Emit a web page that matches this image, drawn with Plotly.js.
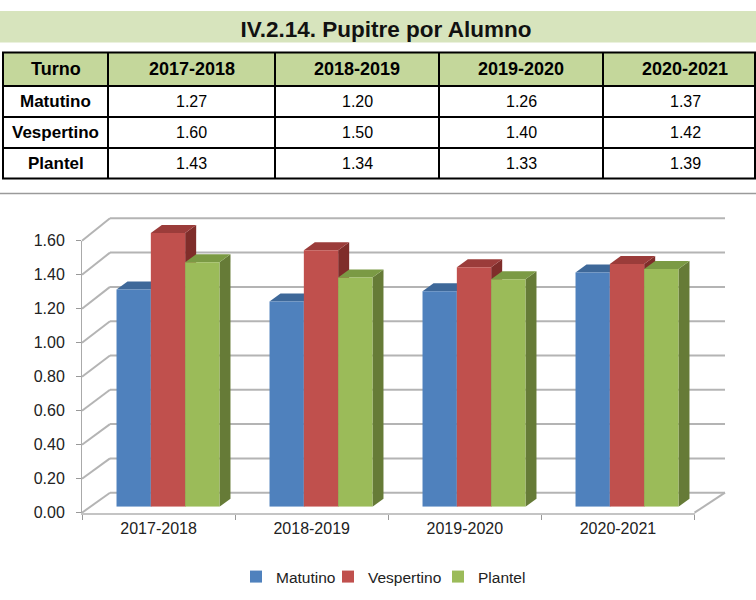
<!DOCTYPE html>
<html><head><meta charset="utf-8">
<script src="https://cdn.plot.ly/plotly-3.0.1.min.js"></script>
<style>html,body{margin:0;padding:0;background:#fff}#chart{width:756px;height:600px}</style>
</head><body><div id="chart"></div>
<script>
// ---- data ----
const chartTitle = 'IV.2.14. Pupitre por Alumno';
const categories = ['2017-2018', '2018-2019', '2019-2020', '2020-2021'];
const seriesNames = ['Matutino', 'Vespertino', 'Plantel'];
const matutino = [1.27, 1.20, 1.26, 1.37];
const vespertino = [1.60, 1.50, 1.40, 1.42];
const plantel = [1.43, 1.34, 1.33, 1.39];
const tableHeader = ['Turno', '2017-2018', '2018-2019', '2019-2020', '2020-2021'];
const yTickVals = [0, 0.2, 0.4, 0.6, 0.8, 1.0, 1.2, 1.4, 1.6];
const yTickText = ['0.00', '0.20', '0.40', '0.60', '0.80', '1.00', '1.20', '1.40', '1.60'];

// ---- styling / geometry (pixels of the 756x600 page) ----
const W = 756, H = 600;
const px = x => x / W, py = y => 1 - y / H;
const FONT = 'Liberation Sans, Arial, sans-serif';
const front = ['#4f81bd', '#c0504d', '#9bbb59'];
const topC = ['#3e6899', '#9b3c3a', '#7b9a44'];
const sideC = ['#385d8a', '#7f2d2a', '#667b37'];
const seriesValues = [matutino, vespertino, plantel];

const colLines = [3, 108, 275, 439, 603, 755];
const colCenters = [55.5, 191.5, 357, 521, 685];
const rowLines = [52.5, 86, 117, 148, 178.5];
const rowCenters = [69, 101.5, 132.5, 163.5];

const bargap = 0.327;
const depthX = 11 / 153;   // category units
const depthY = 8 / 171;    // value units
const frontY = v => 512.7 - 170 * v;
const backY = v => 492.7 - 171.5 * v;

const shapes = [];
const annotations = [];

// title band
shapes.push({type: 'rect', xref: 'paper', yref: 'paper', x0: 0, x1: 1, y0: py(42.5), y1: py(11),
  fillcolor: '#d7e4bd', line: {width: 0}, layer: 'below'});
// table header fill
shapes.push({type: 'rect', xref: 'paper', yref: 'paper', x0: px(3), x1: px(755), y0: py(86), y1: py(52.5),
  fillcolor: '#c4d79b', line: {width: 0}, layer: 'below'});
rowLines.forEach(y => shapes.push({type: 'line', xref: 'paper', yref: 'paper', x0: px(2), x1: px(756),
  y0: py(y), y1: py(y), line: {color: '#000', width: 2}}));
colLines.forEach(x => shapes.push({type: 'line', xref: 'paper', yref: 'paper', x0: px(x), x1: px(x),
  y0: py(rowLines[0]), y1: py(rowLines[rowLines.length - 1]), line: {color: '#000', width: 2}}));
// separator
shapes.push({type: 'line', xref: 'paper', yref: 'paper', x0: 0, x1: 1, y0: py(193.5), y1: py(193.5),
  line: {color: '#9a9a9a', width: 1.5}});

// back wall gridlines + left wall diagonals
yTickVals.forEach(v => {
  shapes.push({type: 'line', xref: 'paper', yref: 'paper', x0: px(110), x1: px(725),
    y0: py(backY(v)), y1: py(backY(v)), line: {color: '#b4b4b4', width: 2}, layer: 'below'});
  shapes.push({type: 'line', xref: 'paper', yref: 'paper', x0: px(82), x1: px(110),
    y0: py(frontY(v)), y1: py(backY(v)), line: {color: '#b4b4b4', width: 2}, layer: 'below'});
});
// floor right edge
shapes.push({type: 'line', xref: 'paper', yref: 'paper', x0: px(694.5), x1: px(725),
  y0: py(frontY(0)), y1: py(backY(0)), line: {color: '#b4b4b4', width: 2}, layer: 'below'});

// 3D faces of bars (top + right side), from the data
const bw = (1 - bargap) / 3;
seriesValues.forEach((vals, k) => {
  vals.forEach((v, g) => {
    const x0 = g - (1 - bargap) / 2 + k * bw, x1 = x0 + bw;
    shapes.push({type: 'path', xref: 'x', yref: 'y', layer: 'below',
      path: `M${x1},0 L${x1},${v} L${x1 + depthX},${v + depthY} L${x1 + depthX},${depthY} Z`,
      fillcolor: sideC[k], line: {width: 0}});
    shapes.push({type: 'path', xref: 'x', yref: 'y', layer: 'below',
      path: `M${x0},${v} L${x1},${v} L${x1 + depthX},${v + depthY} L${x0 + depthX},${v + depthY} Z`,
      fillcolor: topC[k], line: {width: 0}});
  });
});

// table text
const ann = (text, x, y, size, bold) => annotations.push({text, xref: 'paper', yref: 'paper',
  x: px(x), y: py(y), xanchor: 'center', yanchor: 'middle', showarrow: false,
  font: {family: FONT, size, color: '#000', weight: bold ? 'bold' : 'normal'}});
tableHeader.forEach((t, i) => ann(t, colCenters[i], rowCenters[0], 18, true));
seriesNames.forEach((name, r) => {
  ann(name, colCenters[0], rowCenters[r + 1], 17, true);
  seriesValues[r].forEach((v, c) => ann(v.toFixed(2), colCenters[c + 1], rowCenters[r + 1], 16, false));
});

// ---- traces ----
const legendIds = ['legend', 'legend2', 'legend3'];
const traces = seriesNames.map((name, k) => ({
  type: 'bar', name, x: categories, y: seriesValues[k], xaxis: 'x', yaxis: 'y',
  marker: {color: front[k], line: {width: 0}}, legend: legendIds[k], hoverinfo: 'skip'
}));
traces.push({type: 'scatter', mode: 'markers', x: categories, y: categories.map(() => null),
  xaxis: 'x2', yaxis: 'y2', showlegend: false, hoverinfo: 'skip'});

const legendStarts = [236, 328, 438];
const mkLegend = i => ({orientation: 'h', x: px(legendStarts[i]), xanchor: 'left', y: py(577), yanchor: 'middle',
  bgcolor: 'rgba(0,0,0,0)', borderwidth: 0, font: {family: FONT, size: 15.5, color: '#222'}});

const layout = {
  width: W, height: H, autosize: false,
  margin: {l: 0, r: 0, t: 0, b: 0},
  paper_bgcolor: '#fff', plot_bgcolor: 'rgba(0,0,0,0)',
  title: {text: chartTitle, x: px(386), xanchor: 'center', y: py(29), yanchor: 'middle',
    font: {family: FONT, size: 22.5, color: '#111', weight: 'bold'}},
  barmode: 'group', bargap: bargap, bargroupgap: 0,
  xaxis: {type: 'category', categoryarray: categories, categoryorder: 'array',
    domain: [px(91.5), px(703.5)], range: [-0.5, 3.5], visible: false, fixedrange: true},
  yaxis: {domain: [py(506.7), py(506.7 - 1.8 * 171)], range: [0, 1.8], visible: false, fixedrange: true},
  xaxis2: {type: 'category', categoryarray: categories, categoryorder: 'array', anchor: 'y2',
    domain: [px(82), px(694.5)], range: [-0.5, 3.5], tickson: 'boundaries', ticks: 'outside',
    ticklen: 5, tickcolor: '#999', tickwidth: 1, showline: true, linecolor: '#c4c4c4', linewidth: 2,
    showgrid: false, zeroline: false, tickfont: {family: FONT, size: 16, color: '#222'}, fixedrange: true},
  yaxis2: {anchor: 'x2', domain: [py(frontY(0)), py(frontY(1.6))], range: [0, 1.6],
    tickmode: 'array', tickvals: yTickVals, ticktext: yTickText, ticks: 'outside', ticklen: 5,
    tickcolor: '#999', tickwidth: 1, showline: true, linecolor: '#aaa', linewidth: 1, showgrid: false,
    zeroline: false, ticklabelstandoff: 8, tickfont: {family: FONT, size: 16, color: '#222'}, fixedrange: true},
  legend: mkLegend(0), legend2: mkLegend(1), legend3: mkLegend(2),
  shapes, annotations
};

Plotly.newPlot('chart', traces, layout, {displayModeBar: false, staticPlot: true});
</script>
</body></html>
